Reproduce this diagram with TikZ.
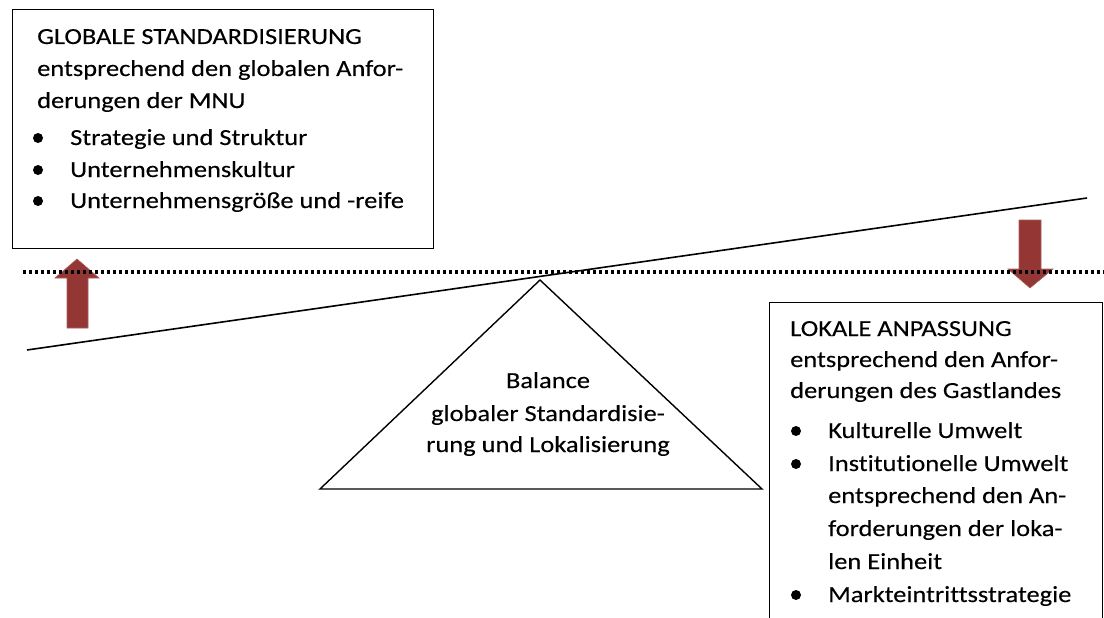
\documentclass[tikz,border=0pt]{standalone}
\usepackage{fontspec}
\setmainfont{Carlito}[FakeStretch=1.15, FakeBold=0.2, Ligatures=NoCommon]
\definecolor{arrowred}{HTML}{943634}
\begin{document}
\begin{tikzpicture}[x=1pt,y=-1pt,
  frame/.style={draw=black, line width=1.4pt, rectangle, inner sep=0pt, anchor=north west},
  txt/.style={anchor=base west, inner sep=0pt, font=\fontsize{23}{30}\selectfont},
  ctxt/.style={anchor=base, inner sep=0pt, font=\fontsize{23}{30}\selectfont},
  bulletdot/.style={circle, fill=black, inner sep=0pt, minimum size=10pt},
  bigarrow/.style={fill=arrowred, draw=arrowred!80!white, line width=0.6pt},
  beam/.style={line width=1.6pt},
  pedestal/.style={line width=1.4pt, line join=miter},
  level/.style={line width=3.4pt, dash pattern=on 3.4pt off 2.6pt}
]
\useasboundingbox (0,0) rectangle (1104,618);
\clip (0,0) rectangle (1104,618);

% --- global standardisation box ---
\node[frame, minimum width=421pt, minimum height=239pt] (glob) at (12,9) {};
\node[txt] (g1) at (37,44)  {GLOBALE STANDARDISIERUNG};
\node[txt] (g2) at (37,76)  {entsprechend den globalen Anfor-};
\node[txt] (g3) at (37,108) {derungen der MNU};
\node[bulletdot] (gb1) at (38,138) {};
\node[txt] (g4) at (70,145) {Strategie und Struktur};
\node[bulletdot] (gb2) at (38,170) {};
\node[txt] (g5) at (70,177) {Unternehmenskultur};
\node[bulletdot] (gb3) at (38,201) {};
\node[txt] (g6) at (70,208) {Unternehmensgröße und -reife};

% --- local adaptation box ---
\node[frame, minimum width=333pt, minimum height=340pt] (lok) at (769,302) {};
\node[txt] (l1) at (790,336) {LOKALE ANPASSUNG};
\node[txt] (l2) at (790,367) {entsprechend den Anfor-};
\node[txt] (l3) at (790,398) {derungen des Gastlandes};
\node[bulletdot] (lb1) at (796,431) {};
\node[txt] (l4) at (828,438) {Kulturelle Umwelt};
\node[bulletdot] (lb2) at (796,464) {};
\node[txt] (l5) at (828,471) {Institutionelle Umwelt};
\node[txt] (l6) at (828,503) {entsprechend den An-};
\node[txt] (l7) at (828,536) {forderungen der loka-};
\node[txt] (l8) at (828,569) {len Einheit};
\node[bulletdot] (lb3) at (796,595) {};
\node[txt] (l9) at (828,602) {Markteintrittsstrategie};

% --- fulcrum ---
\coordinate (apex) at (540,280);
\coordinate (baseL) at (320,489);
\coordinate (baseR) at (762,489);
\draw[pedestal] (apex) -- (baseL) -- (baseR) -- cycle;
\node[ctxt] (bal1) at (548,388) {Balance};
\node[ctxt] (bal2) at (548,421) {globaler Standardisie-};
\node[ctxt] (bal3) at (548,452) {rung und Lokalisierung};

% --- block arrows ---
\draw[bigarrow] (77,259) -- (99,278) -- (88,278) -- (88,328) -- (67,328) -- (67,278) -- (55,278) -- cycle;
\draw[bigarrow] (1030,288) -- (1053,269) -- (1041,269) -- (1041,220) -- (1019,220) -- (1019,269) -- (1008,269) -- cycle;

% --- equilibrium level and tilted beam ---
\coordinate (levL) at (23,272);
\coordinate (levR) at (1104,272);
\draw[level] (levL) -- (levR);
\coordinate (beamL) at (27,350);
\coordinate (beamR) at (1087,198);
\draw[beam] (beamL) -- (beamR);
\end{tikzpicture}
\end{document}
